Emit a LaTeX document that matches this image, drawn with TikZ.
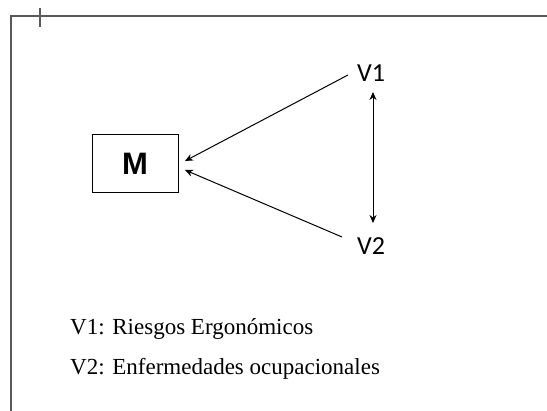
\documentclass[tikz,border=0pt]{standalone}
\usepackage{fontspec}
\setmainfont{Liberation Serif}
\newfontfamily\labfont{Carlito}
\newfontfamily\boxfont{Liberation Sans}
\usetikzlibrary{arrows.meta}
\begin{document}
\begin{tikzpicture}[x=1pt,y=-1pt,
  frame/.style={draw=black!65, line width=1.3pt},
  arr/.style={-{Stealth[length=8pt,width=7pt]}, line width=1pt},
  lab/.style={font=\labfont\fontsize{26}{30}\selectfont, inner sep=0pt},
  legend/.style={font=\fontsize{23}{27}\selectfont, inner sep=0pt, anchor=base west}]
\useasboundingbox (0,0) rectangle (547,411);
\fill[white] (0,0) rectangle (547,411);
\draw[frame] (11,411) -- (11,16) -- (547,16);
\draw[frame] (40,8) -- (40,27);
\node[draw, line width=1pt, minimum width=86pt, minimum height=58pt, inner sep=0pt,
  font=\boxfont\bfseries\fontsize{31}{36}\selectfont] (m) at (135,164) {M};
\node[lab] (v1) at (371,73) {V1};
\node[lab] (v2) at (371,246) {V2};
\coordinate (s1) at (348,75);
\coordinate (s2) at (342,237);
\coordinate (t1) at (185,161);
\coordinate (t2) at (185,170);
\draw[arr] (s1) -- (t1);
\draw[arr] (s2) -- (t2);
\coordinate (u) at (373,92);
\coordinate (d) at (373,223);
\draw[arr, {Stealth[length=8pt,width=7pt]}-{Stealth[length=8pt,width=7pt]}] (u) -- (d);
\node[legend] (l1) at (70,335) {V1: Riesgos Ergonómicos};
\node[legend] (l2) at (70,375) {V2: Enfermedades ocupacionales};
\end{tikzpicture}
\end{document}
